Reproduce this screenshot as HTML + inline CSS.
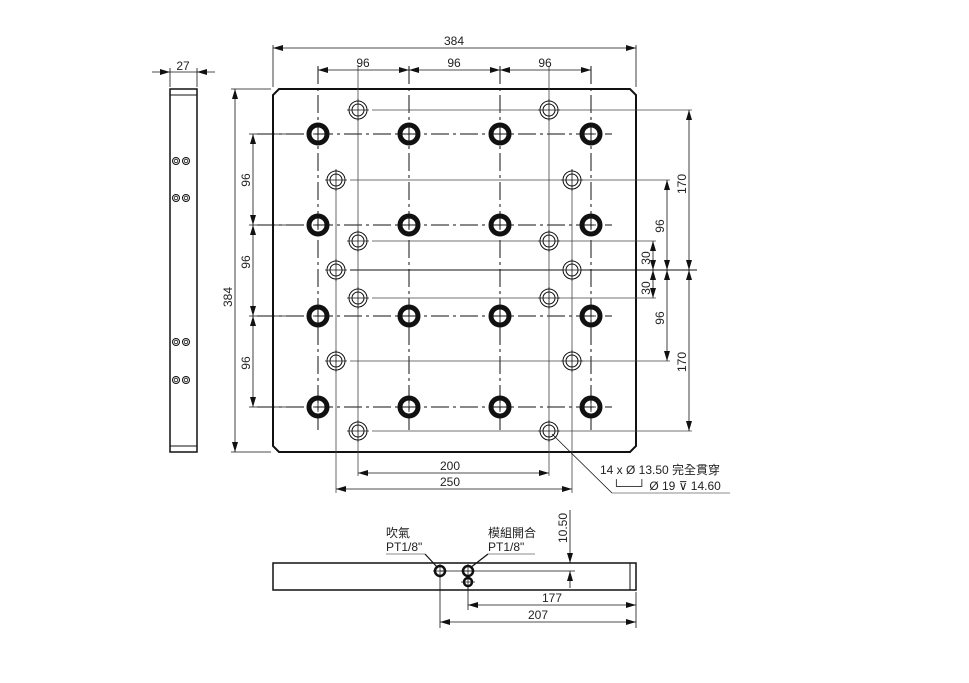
<!DOCTYPE html>
<html><head><meta charset="utf-8"><style>
body{margin:0;background:#fff}
svg{display:block}
text{font-family:"Liberation Sans","Noto Sans CJK TC",sans-serif;font-size:12px;fill:#222}
</style></head><body>
<svg id="s" width="969" height="683" viewBox="0 0 969 683" xmlns="http://www.w3.org/2000/svg">
<defs>
<marker id="a" viewBox="0 0 10 6" refX="10" refY="3" markerWidth="10" markerHeight="6" orient="auto-start-reverse" markerUnits="userSpaceOnUse"><path d="M0,0L10,3L0,6z" fill="#111"/></marker>
</defs>
<g id="g" stroke="#111" fill="none"></g>
</svg>
<script>
const g=document.getElementById('g'),NS='http://www.w3.org/2000/svg';
function el(t,a,txt){const e=document.createElementNS(NS,t);for(const k in a)e.setAttribute(k,a[k]);if(txt!==undefined)e.textContent=txt;g.appendChild(e);return e;}
function L(x1,y1,x2,y2,w,c,d){el('line',{x1,y1,x2,y2,'stroke-width':w||1,stroke:c||'#111','stroke-dasharray':d||'none'});}
function D(x1,y1,x2,y2){el('line',{x1,y1,x2,y2,'stroke-width':0.8,'marker-start':'url(#a)','marker-end':'url(#a)'});}
function T(x,y,s,rot,anchor){const a={x,y,'text-anchor':anchor||'middle',stroke:'none'};if(rot)a.transform=`rotate(-90 ${x} ${y})`;el('text',a,s);}
el('path',{d:'M279,89 L630,89 L636,95 L636,446 L630,452 L279,452 L273,446 L273,95 Z','stroke-width':2});
const bx=[318,409,500,591],by=[134,225,316,407];
const dash='18 4 3 4';
by.forEach(y=>L(257,y,612,y,1,'#111',dash));
bx.forEach(x=>L(x,66,x,430,1,'#111',dash));
const sm=[[358,110],[549,110],[336,180],[572,180],[358,241],[549,241],[336,270],[572,270],[358,298],[549,298],[336,361],[572,361],[358,431],[549,431]];
[110,180,241,298,361,431].forEach(y=>L(y==180||y==361?350:372,y,y==110||y==431?692:(y==241||y==298?656:670),y,0.8,'#444'));
L(350,270,697,270,1);
L(358,66,358,476,0.8,'#444');L(549,66,549,476,0.8,'#444');
L(336,170,336,493,0.8,'#444');L(572,170,572,493,0.8,'#444');
bx.forEach(x=>by.forEach(y=>{el('circle',{cx:x,cy:y,r:9,'stroke-width':5});L(x-5,y,x+5,y,0.8);L(x,y-5,x,y+5,0.8);}));
sm.forEach(([x,y])=>{el('circle',{cx:x,cy:y,r:9,'stroke-width':1,fill:'#fff'});el('circle',{cx:x,cy:y,r:6,'stroke-width':1});L(x-11,y,x+11,y,0.8);L(x,y-11,x,y+11,0.8);});
L(273,45,273,87,0.8);L(636,45,636,87,0.8);D(273,48,636,48);T(454,45,'384');
D(318,70,409,70);D(409,70,500,70);D(500,70,591,70);T(363,67,'96');T(454,67,'96');T(545,67,'96');
L(231,89,271,89,0.8);L(231,452,271,452,0.8);D(235,89,235,452);T(232,297,'384',1);
by.forEach(y=>L(249,y,300,y,0.8));
D(253,134,253,225);D(253,225,253,316);D(253,316,253,407);
T(250,180,'96',1);T(250,262,'96',1);T(250,363,'96',1);
D(689,110,689,270);D(689,270,689,431);T(686,184,'170',1);T(686,362,'170',1);
D(667,180,667,270);D(667,270,667,361);T(664,226,'96',1);T(664,318,'96',1);
D(653,241,653,270);D(653,270,653,298);T(650,258,'30',1);T(650,288,'30',1);
D(358,473,549,473);T(450,470,'200');D(336,489,572,489);T(450,486,'250');
L(552,434,612,493,0.8);L(612,493,730,493,0.8,'#666');
T(600,474,'14 x  Ø 13.50 完全貫穿',0,'start');
T(612,490,'└──┘  Ø 19 ⊽ 14.60',0,'start');
el('rect',{x:170,y:89,width:27,height:363,'stroke-width':1.5});L(170,95,197,95,1);L(170,446,197,446,1);
[161,198,342,380].forEach(y=>[176,186].forEach(x=>{el('circle',{cx:x,cy:y,r:3.5,'stroke-width':1});el('circle',{cx:x,cy:y,r:1.8,'stroke-width':0.8});}));
L(170,68,170,87,0.8);L(197,68,197,87,0.8);
el('line',{x1:152,y1:72,x2:170,y2:72,'stroke-width':0.8,'marker-end':'url(#a)'});
el('line',{x1:215,y1:72,x2:197,y2:72,'stroke-width':0.8,'marker-end':'url(#a)'});L(170,72,197,72,0.8);
T(183,70,'27');
el('rect',{x:273,y:563,width:363,height:27,'stroke-width':1.5});L(630,563,630,590,1);
L(440,571,575,571,0.8);
[[440,571,5],[468,571,5],[468,582,4]].forEach(([x,y,r])=>{el('circle',{cx:x,cy:y,r,'stroke-width':2.5});L(x-7,y,x+7,y,0.7);L(x,y-7,x,y+7,0.7);});
L(440,576,440,628,0.8);L(468,586,468,610,0.8);L(636,592,636,628,0.8);
D(468,605,636,605);T(552,602,'177');D(440,622,636,622);T(538,619,'207');
el('line',{x1:570,y1:510,x2:570,y2:563,'stroke-width':0.8,'marker-end':'url(#a)'});
el('line',{x1:570,y1:588,x2:570,y2:571,'stroke-width':0.8,'marker-end':'url(#a)'});
T(567,528,'10.50',1);
T(386,537,'吹氣',0,'start');T(386,551,'PT1/8"',0,'start');L(386,554,425,554,0.8,'#666');L(425,554,438,568,1.2);
T(488,537,'模組開合',0,'start');T(488,551,'PT1/8"',0,'start');L(488,554,535,554,0.8,'#666');L(488,554,470,568,1.2);
</script>
</body></html>
